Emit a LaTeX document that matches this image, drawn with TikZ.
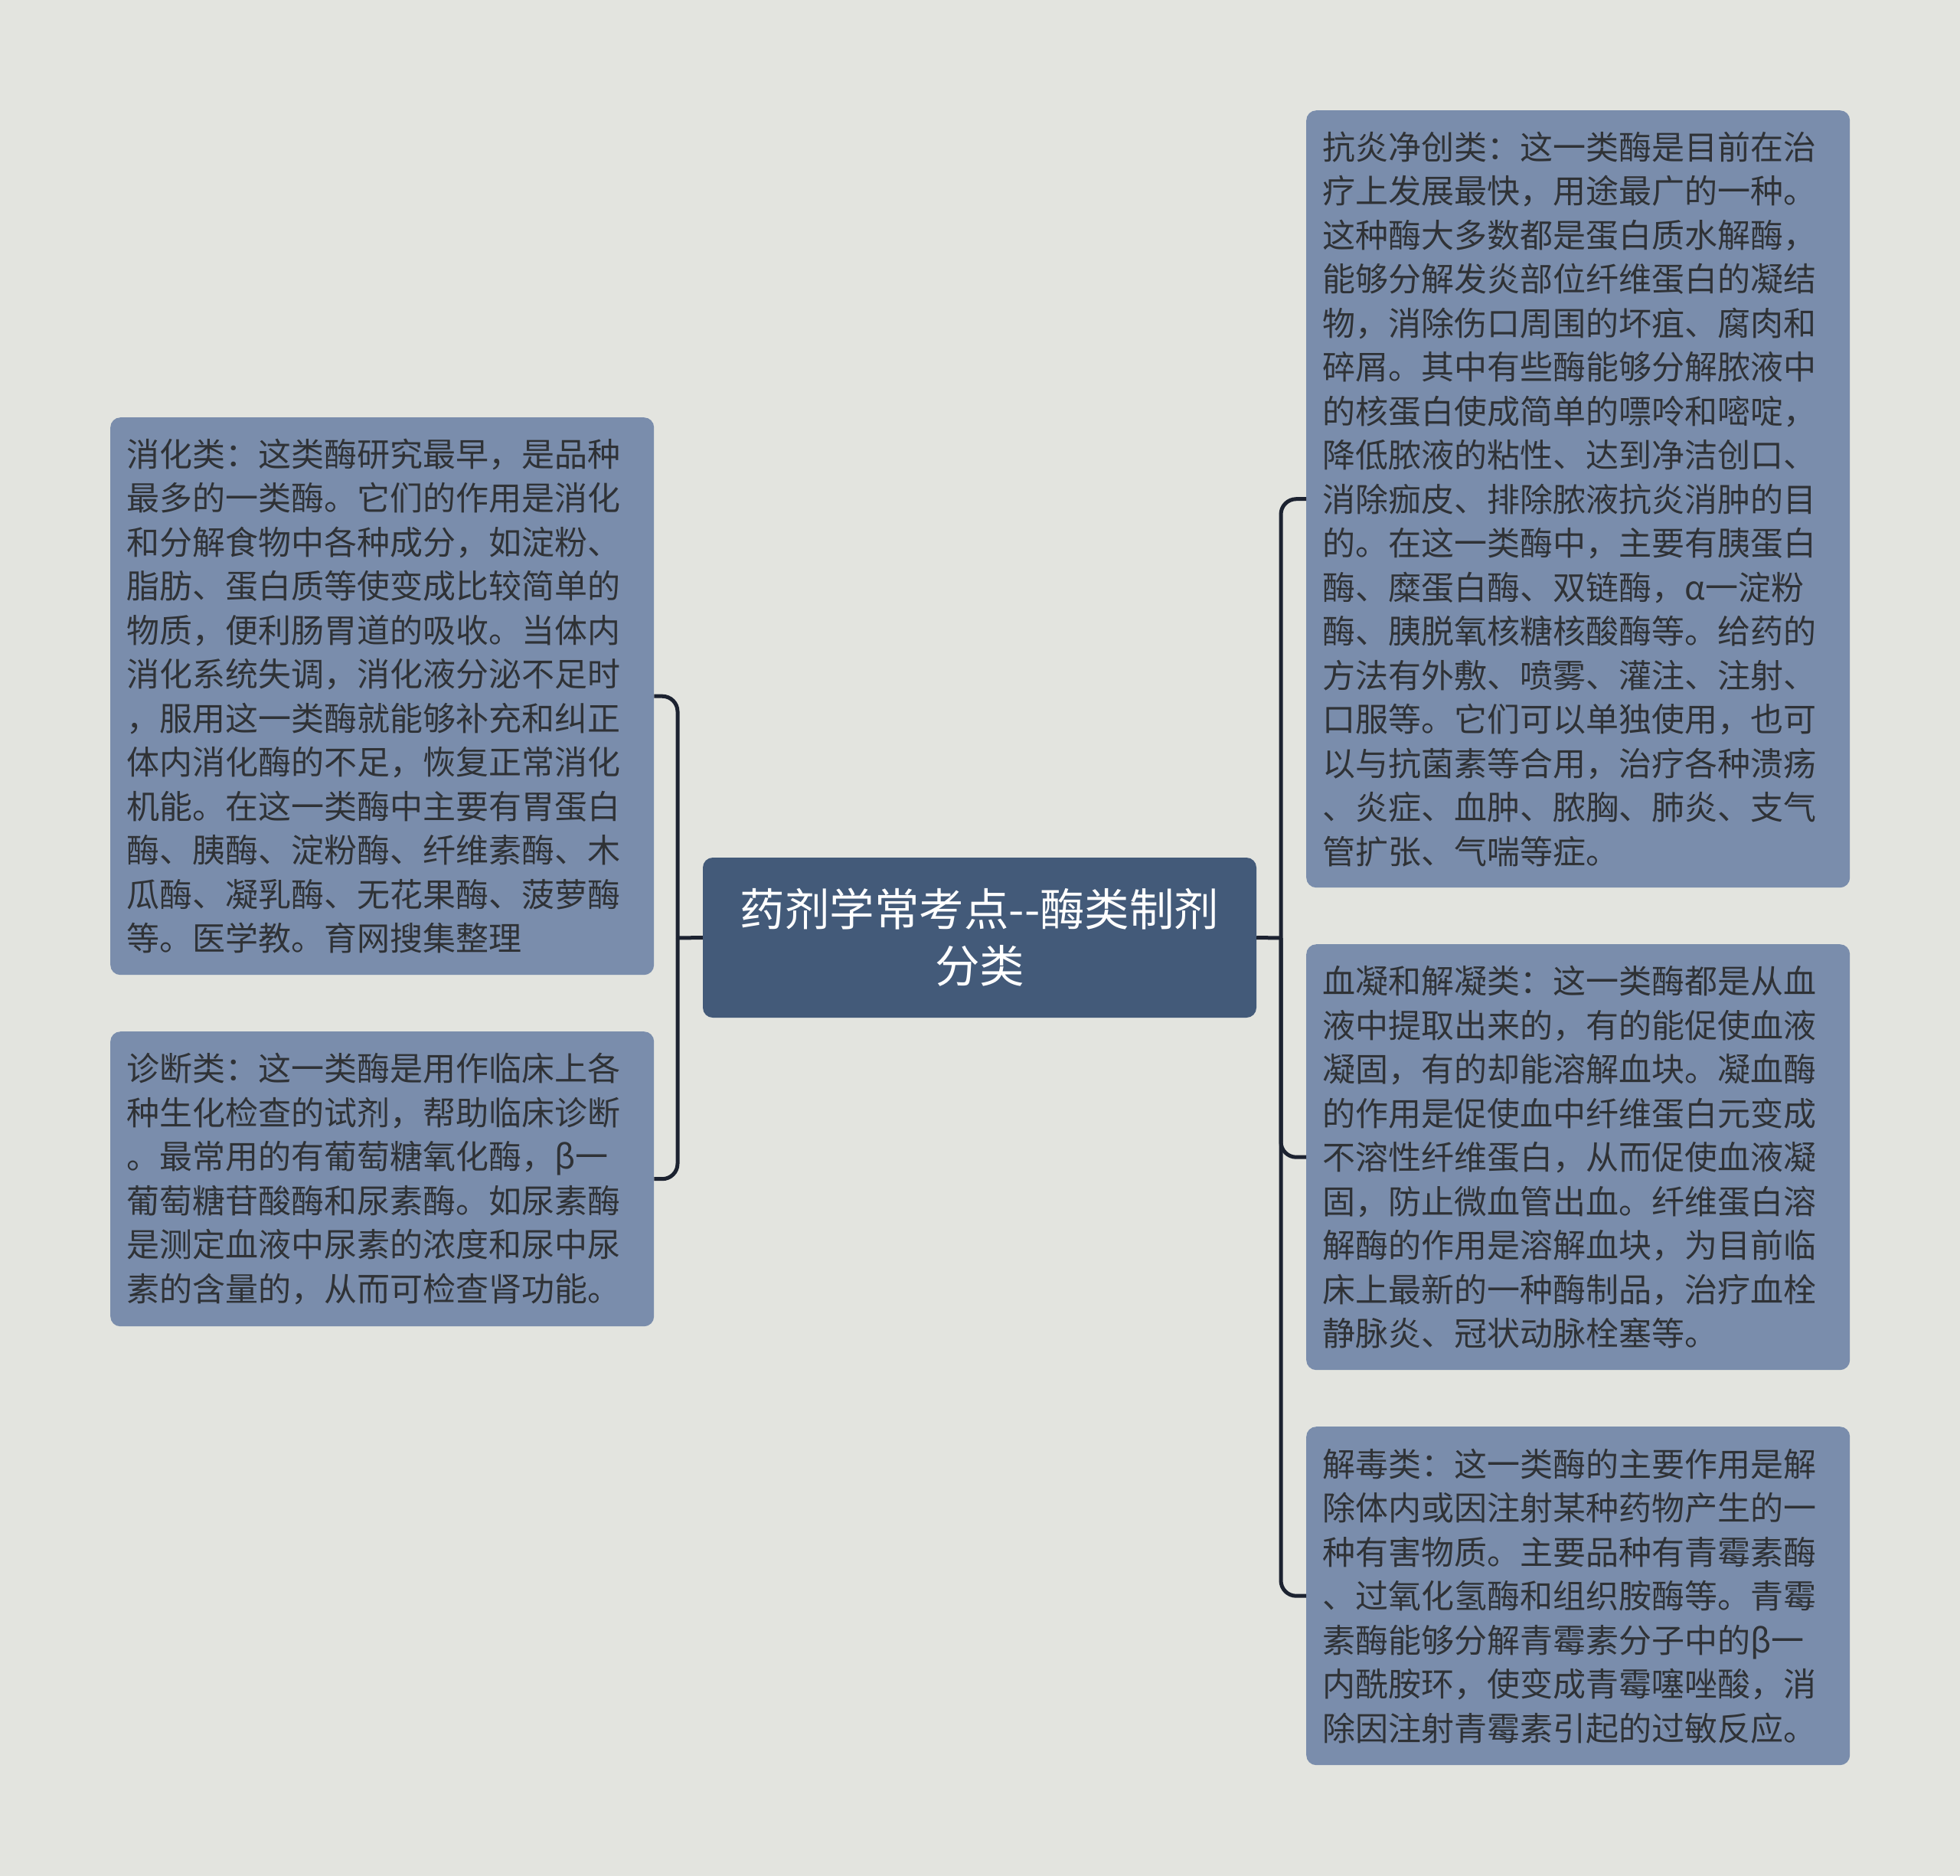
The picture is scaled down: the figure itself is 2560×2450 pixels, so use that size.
\documentclass[tikz,border=0pt]{standalone}
\usepackage{fontspec}
\newfontfamily\cjkfont{Noto Sans CJK SC}
\definecolor{paper}{HTML}{E3E4DF}
\definecolor{leafblue}{HTML}{7A8DAC}
\definecolor{rootblue}{HTML}{435A79}
\definecolor{inktext}{HTML}{2F3236}
\definecolor{linkdark}{HTML}{1C2230}
\tikzset{
  leafbox/.style={fill=leafblue, rounded corners=13pt, anchor=north west,
    text width=668pt, inner xsep=21pt, inner ysep=0pt, align=left,
    text=inktext, font=\cjkfont\fontsize{43}{57.5}\selectfont},
  rootbox/.style={fill=rootblue, rounded corners=13pt, minimum width=723pt,
    inner sep=0pt, minimum height=209pt, align=center,
    text=white, font=\cjkfont\fontsize{58.5}{74}\selectfont},
  branchline/.style={draw=linkdark, line width=5pt},
}

\begin{document}
\begin{tikzpicture}[x=1pt,y=-1pt]
	\fill[paper] (0,0) rectangle (2560,2450);

	\coordinate (lhub) at (885,1225);
	\coordinate (rhub) at (1673,1225);

	\node[rootbox] (root) at (1279.5,1224.5) {药剂学常考点-{}-酶类制剂\\分类};

	\node[leafbox, minimum height=728pt] (digest) at (144,545) {消化类：这类酶研究最早，是品种\\最多的一类酶。它们的作用是消化\\和分解食物中各种成分，如淀粉、\\脂肪、蛋白质等使变成比较简单的\\物质，便利肠胃道的吸收。当体内\\消化系统失调，消化液分泌不足时\\，服用这一类酶就能够补充和纠正\\体内消化酶的不足，恢复正常消化\\机能。在这一类酶中主要有胃蛋白\\酶、胰酶、淀粉酶、纤维素酶、木\\瓜酶、凝乳酶、无花果酶、菠萝酶\\等。医学教。育网搜集整理};
	\node[leafbox, minimum height=385pt] (diagnose) at (144,1347) {诊断类：这一类酶是用作临床上各\\种生化检查的试剂，帮助临床诊断\\。最常用的有葡萄糖氧化酶，β一\\葡萄糖苷酸酶和尿素酶。如尿素酶\\是测定血液中尿素的浓度和尿中尿\\素的含量的，从而可检查肾功能。};

	\node[leafbox, minimum height=1015pt] (heal) at (1706,144) {抗炎净创类：这一类酶是目前在治\\疗上发展最快，用途最广的一种。\\这种酶大多数都是蛋白质水解酶，\\能够分解发炎部位纤维蛋白的凝结\\物，消除伤口周围的坏疽、腐肉和\\碎屑。其中有些酶能够分解脓液中\\的核蛋白使成简单的嘌呤和嘧啶，\\降低脓液的粘性、达到净洁创口、\\消除痂皮、排除脓液抗炎消肿的目\\的。在这一类酶中，主要有胰蛋白\\酶、糜蛋白酶、双链酶，α一淀粉\\酶、胰脱氧核糖核酸酶等。给药的\\方法有外敷、喷雾、灌注、注射、\\口服等。它们可以单独使用，也可\\以与抗菌素等合用，治疗各种溃疡\\、炎症、血肿、脓胸、肺炎、支气\\管扩张、气喘等症。};
	\node[leafbox, minimum height=556pt] (clot) at (1706,1233) {血凝和解凝类：这一类酶都是从血\\液中提取出来的，有的能促使血液\\凝固，有的却能溶解血块。凝血酶\\的作用是促使血中纤维蛋白元变成\\不溶性纤维蛋白，从而促使血液凝\\固，防止微血管出血。纤维蛋白溶\\解酶的作用是溶解血块，为目前临\\床上最新的一种酶制品，治疗血栓\\静脉炎、冠状动脉栓塞等。};
	\node[leafbox, minimum height=442pt] (detox) at (1706,1863) {解毒类：这一类酶的主要作用是解\\除体内或因注射某种药物产生的一\\种有害物质。主要品种有青霉素酶\\、过氧化氢酶和组织胺酶等。青霉\\素酶能够分解青霉素分子中的β一\\内酰胺环，使变成青霉噻唑酸，消\\除因注射青霉素引起的过敏反应。};

	\draw[branchline] (root.west) -- (lhub);
	\draw[branchline] (root.east) -- (rhub);
	\foreach \leafname in {digest,diagnose}
		\draw[branchline, rounded corners=20pt] (lhub) |- (\leafname.east);
	\foreach \leafname in {heal,clot,detox}
		\draw[branchline, rounded corners=20pt] (rhub) |- (\leafname.west);
\end{tikzpicture}
\end{document}
